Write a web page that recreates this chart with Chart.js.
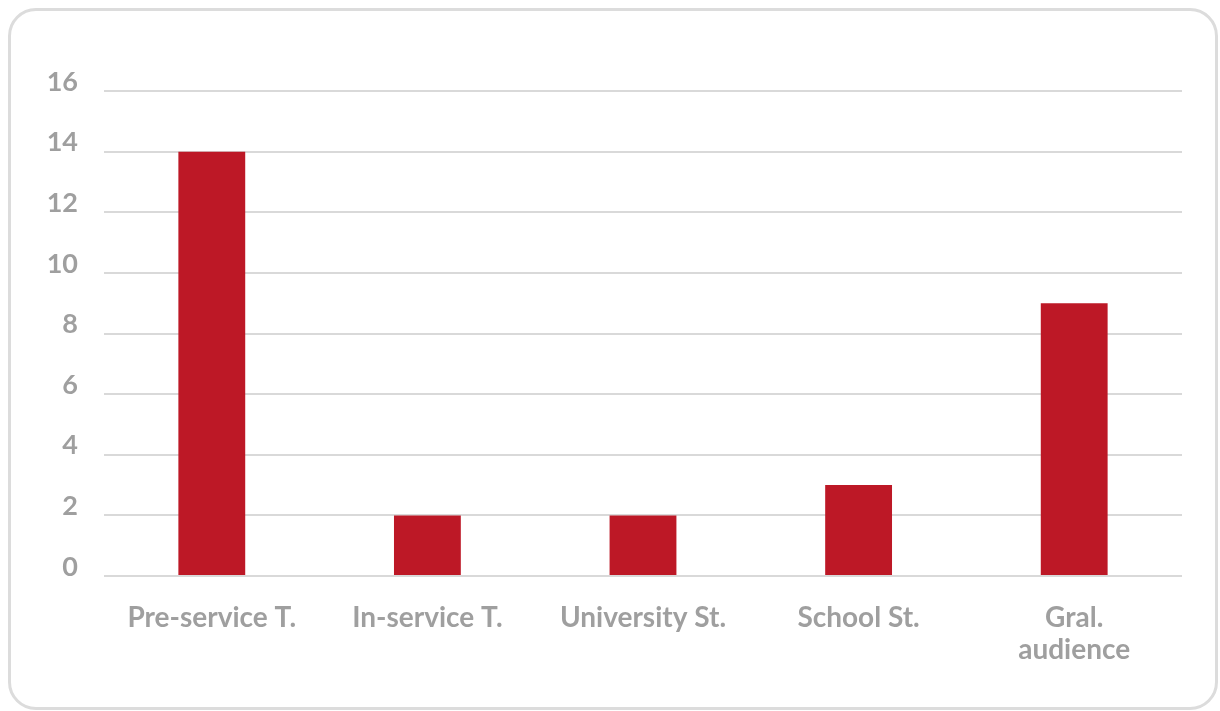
<!DOCTYPE html>
<html lang="en">
<head>
    <meta charset="UTF-8">
    <title>Participants by group</title>
    <script src="https://cdn.jsdelivr.net/npm/chart.js"></script>
    <style>
        body { margin: 0; background: #fff; overflow: hidden; }
        .frame {
            position: absolute;
            left: 8px; top: 8px;
            width: 1204px; height: 696px;
            border: 3px solid #dcdcdc;
            border-radius: 28px;
        }
        #groupChart { position: absolute; left: 0; top: 0; }
    </style>
</head>
<body>
    <div class="frame"></div>
    <canvas id="groupChart" width="1220" height="711"></canvas>

    <script>
        // Number of participants per group
        const groups = ['Pre-service T.', 'In-service T.', 'University St.', 'School St.', ['Gral.', 'audience']];
        const counts = [14, 2, 2, 3, 9];
        const yMax = 16;
        const yStep = 2;

        const textGrey = '#9f9f9f';
        const barRed = '#bd1826';

        new Chart(document.getElementById('groupChart'), {
            type: 'bar',
            data: {
                labels: groups,
                datasets: [{
                    data: counts,
                    backgroundColor: barRed,
                    borderWidth: 0,
                    barPercentage: 0.62,
                    categoryPercentage: 0.5
                }]
            },
            options: {
                responsive: false,
                animation: false,
                layout: {
                    padding: { left: 0, right: 38, top: 91, bottom: 0 }
                },
                plugins: {
                    legend: { display: false },
                    tooltip: { enabled: false }
                },
                scales: {
                    x: {
                        grid: { display: false },
                        border: { display: false },
                        ticks: {
                            color: textGrey,
                            padding: 18,
                            maxRotation: 0,
                            autoSkip: false,
                            font: { family: 'Lato', size: 28, weight: 'bold', lineHeight: 1.143 }
                        },
                        afterFit: function (scale) { scale.height = 135; }
                    },
                    y: {
                        min: 0,
                        max: yMax,
                        grid: { color: '#d9d9d9', lineWidth: 2, drawTicks: false },
                        border: { display: false },
                        ticks: {
                            stepSize: yStep,
                            color: textGrey,
                            padding: 26,
                            labelOffset: -9,
                            font: { family: 'Lato', size: 27, weight: 'bold' }
                        },
                        afterFit: function (scale) { scale.width = 104; }
                    }
                }
            }
        });
    </script>
</body>
</html>
